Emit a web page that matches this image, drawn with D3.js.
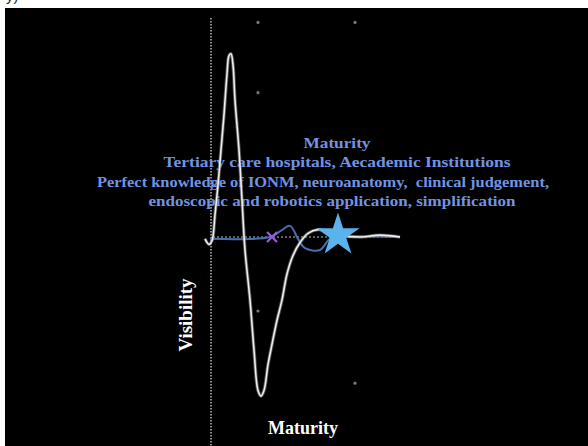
<!DOCTYPE html>
<meta charset="utf-8" />
<head>
  <script src="https://d3js.org/d3.v7.min.js"></script>
  <style>
    body { margin: 0; background: #fff; }
    svg { display: block; }
  </style>
</head>
<body>
  <div id="chart"></div>
</body>
<script>
  // waveform samples: time (0-100) and amplitude (-1..1)
  var whiteT = [0, 2, 3.5, 5, 6.5, 8, 9.5, 11, 12, 13, 14, 15, 17, 18.5, 20, 22.5, 24.5, 26.5, 28, 29.5,
    31.5, 33.5, 36, 38.5, 41, 44, 47.5, 51.5, 56.5, 61.5, 67.5, 77.5, 87.5, 97.5];
  var whiteA = [-0.01, -0.04, -0.02, 0.12, 0.28, 0.47, 0.66, 0.88, 0.98, 0.99, 0.93, 0.74, 0.47, 0.2, -0.07,
    -0.34, -0.61, -0.83, -0.86, -0.83, -0.69, -0.58, -0.45, -0.34, -0.2, -0.1, -0.03, 0.02, 0.04, 0.03,
    0.01, 0, 0.01, 0];
  var blueT = [2.5, 32.5, 37.5, 42.5, 46.5, 50, 57.5, 62.5, 70, 97.5];
  var blueA = [-0.01, 0, 0.03, 0.06, -0.01, -0.06, -0.07, -0.01, 0, 0];
  var crossPt = [33.5, 0];
  var starPt = [66.5, 0.01];
  var gridT = [26.5, 75, 26.5, 26.5, 75];
  var gridA = [1.16, 1.16, 0.78, -0.4, -0.79];

  var labelLines = [
    "Maturity",
    "Tertiary care hospitals, Aecademic Institutions",
    "Perfect knowledge of IONM, neuroanatomy,  clinical judgement,",
    "endoscopic and robotics application, simplification"
  ];
  var xLabel = "Maturity";
  var yLabel = "Visibility";

  var W = 588, H = 446;
  var svg = d3.select("#chart").append("svg").attr("width", W).attr("height", H);

  // fragment of caption above the panel
  svg.append("text").attr("x", 6).attr("y", 1)
    .style("font-family", "Liberation Sans").style("font-size", "15px").attr("fill", "#222")
    .text("y)");

  svg.append("rect").attr("x", 5).attr("y", 8).attr("width", W - 5).attr("height", H - 8)
    .attr("fill", "#000");

  var x = d3.scaleLinear().domain([0, 100]).range([205, 405]);
  var y = d3.scaleLinear().domain([-1, 1]).range([422, 52]);

  // dotted vertical axis
  svg.append("line")
    .attr("x1", 211).attr("x2", 211).attr("y1", 18).attr("y2", H)
    .attr("stroke", "#8a8a8a").attr("stroke-width", 2).attr("stroke-dasharray", "1.5,1.5");

  // faint grid dots
  svg.selectAll("circle.grid").data(gridT).enter().append("circle")
    .attr("class", "grid")
    .attr("cx", function (d) { return x(d); })
    .attr("cy", function (d, i) { return y(gridA[i]); })
    .attr("r", 1.6).attr("fill", "#777");

  // blue annotation text
  var baseY = [148, 167, 187, 206];
  var lens = [67, 347, 452, 367];
  var cx = [337, 337, 323, 332];
  svg.selectAll("text.note").data(labelLines).enter().append("text")
    .attr("class", "note")
    .attr("x", function (d, i) { return cx[i]; })
    .attr("y", function (d, i) { return baseY[i]; })
    .attr("text-anchor", "middle")
    .attr("textLength", function (d, i) { return lens[i]; })
    .attr("lengthAdjust", "spacingAndGlyphs")
    .style("white-space", "pre")
    .style("font-family", "Liberation Serif")
    .style("font-weight", "bold")
    .style("font-size", "15px")
    .attr("fill", "#7193e3")
    .text(function (d) { return d; });

  // dashed baseline
  svg.append("line")
    .attr("x1", x(4)).attr("x2", x(97.5)).attr("y1", y(0)).attr("y2", y(0))
    .attr("stroke", "#bbb").attr("stroke-width", 1).attr("stroke-dasharray", "2,2");

  var line = d3.line()
    .x(function (d) { return x(d[0]); })
    .y(function (d) { return y(d[1]); })
    .curve(d3.curveCatmullRom.alpha(0.5));

  var blueData = blueT.map(function (t, i) { return [t, blueA[i]]; });
  svg.append("path").datum(blueData)
    .attr("d", line).attr("fill", "none")
    .attr("stroke", "#4470b0").attr("stroke-width", 2);

  var whiteData = whiteT.map(function (t, i) { return [t, whiteA[i]]; });
  svg.append("path").datum(whiteData)
    .attr("d", line).attr("fill", "none")
    .attr("stroke", "#8a8a8a").attr("stroke-width", 3.4).attr("opacity", 0.6);
  svg.append("path").datum(whiteData)
    .attr("d", line).attr("fill", "none")
    .attr("stroke", "#eeeeee").attr("stroke-width", 1.6);

  // purple cross
  var cxp = x(crossPt[0]), cyp = y(crossPt[1]);
  svg.append("path")
    .attr("d", "M" + (cxp - 5) + "," + (cyp - 5) + "L" + (cxp + 5) + "," + (cyp + 5) +
      "M" + (cxp - 5) + "," + (cyp + 5) + "L" + (cxp + 5) + "," + (cyp - 5))
    .attr("stroke", "#9a5bd6").attr("stroke-width", 2.2);

  // star
  svg.append("path")
    .attr("d", d3.symbol(d3.symbolStar, 580))
    .attr("transform", "translate(" + x(starPt[0]) + "," + y(starPt[1]) + ")")
    .attr("fill", "#5bb3ee");

  // axis titles
  svg.append("text")
    .attr("transform", "translate(192,315) rotate(-90)")
    .attr("text-anchor", "middle")
    .style("font-family", "Liberation Serif").style("font-weight", "bold").style("font-size", "19px")
    .attr("fill", "#fff")
    .text(yLabel);

  svg.append("text")
    .attr("x", 303).attr("y", 434)
    .attr("text-anchor", "middle")
    .style("font-family", "Liberation Serif").style("font-weight", "bold").style("font-size", "18px")
    .attr("fill", "#fff")
    .text(xLabel);
</script>
